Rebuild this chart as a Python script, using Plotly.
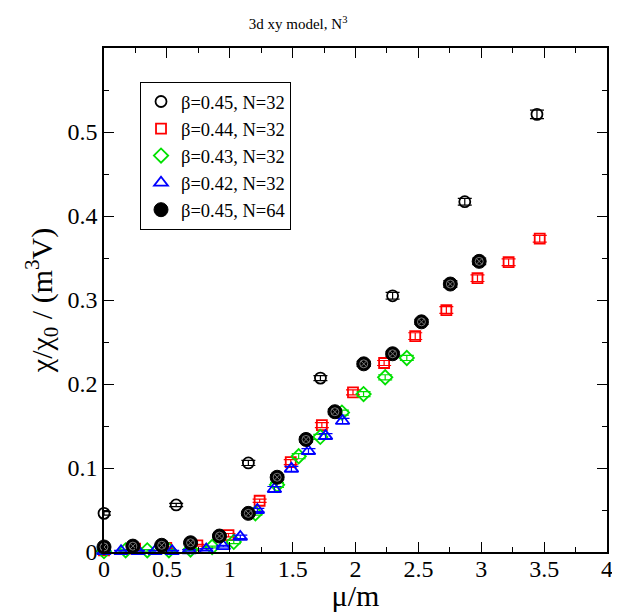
import plotly.graph_objects as go

# beta=0.45, N=32 (open black circles)
x_b45_n32 = [0.0, 0.574, 1.148, 1.721, 2.295, 2.869, 3.443]
y_b45_n32 = [0.046, 0.056, 0.106, 0.207, 0.305, 0.417, 0.521]
e_b45_n32 = [0.002, 0.002, 0.003, 0.003, 0.004, 0.004, 0.005]

# beta=0.44, N=32 (open red squares)
x_b44_n32 = [0.0, 0.2475, 0.495, 0.7425, 0.99, 1.2375, 1.485, 1.7325, 1.98, 2.2275,
             2.475, 2.7225, 2.97, 3.2175, 3.465]
y_b44_n32 = [0.002, 0.004, 0.005, 0.008, 0.020, 0.061, 0.107, 0.151, 0.190, 0.225,
             0.257, 0.288, 0.326, 0.345, 0.373]
e_b44_n32 = [0.001, 0.001, 0.001, 0.001, 0.002, 0.002, 0.003, 0.003, 0.003, 0.003,
             0.004, 0.004, 0.004, 0.004, 0.004]

# beta=0.43, N=32 (open green diamonds)
x_b43_n32 = [0.0, 0.172, 0.344, 0.516, 0.688, 0.86, 1.032, 1.204, 1.376, 1.548,
             1.72, 1.892, 2.064, 2.236, 2.408]
y_b43_n32 = [0.001, 0.002, 0.002, 0.002, 0.003, 0.006, 0.012, 0.046, 0.080, 0.114,
             0.137, 0.166, 0.188, 0.208, 0.231]
e_b43_n32 = [0.001, 0.001, 0.001, 0.001, 0.001, 0.001, 0.002, 0.002, 0.003, 0.003,
             0.003, 0.003, 0.003, 0.003, 0.003]

# beta=0.42, N=32 (open blue triangles)
x_b42_n32 = [0.0, 0.1355, 0.271, 0.4065, 0.542, 0.6775, 0.813, 0.9485, 1.084, 1.2195,
             1.355, 1.4905, 1.626, 1.7615, 1.897]
y_b42_n32 = [0.001, 0.001, 0.001, 0.001, 0.001, 0.002, 0.003, 0.007, 0.018, 0.050,
             0.075, 0.099, 0.120, 0.138, 0.156]
e_b42_n32 = [0.001, 0.001, 0.001, 0.001, 0.001, 0.001, 0.001, 0.001, 0.002, 0.002,
             0.003, 0.003, 0.003, 0.003, 0.003]

# beta=0.45, N=64 (filled black circles)
x_b45_n64 = [0.0, 0.2295, 0.459, 0.6885, 0.918, 1.1475, 1.377, 1.6065, 1.836, 2.0655,
             2.295, 2.5245, 2.754, 2.9835]
y_b45_n64 = [0.006, 0.007, 0.008, 0.011, 0.019, 0.046, 0.089, 0.134, 0.167, 0.224,
             0.236, 0.274, 0.319, 0.346]
e_b45_n64 = [0.001, 0.001, 0.001, 0.001, 0.002, 0.002, 0.003, 0.003, 0.003, 0.003,
             0.003, 0.003, 0.004, 0.004]

x_tick_vals = [0, 0.5, 1, 1.5, 2, 2.5, 3, 3.5, 4]
x_tick_text = ["0", "0.5", "1", "1.5", "2", "2.5", "3", "3.5", "4"]
y_tick_vals = [0, 0.1, 0.2, 0.3, 0.4, 0.5]
y_tick_text = ["0", "0.1", "0.2", "0.3", "0.4", "0.5"]

FONT = "Liberation Serif"

series = [
    ("β=0.45, N=32", x_b45_n32, y_b45_n32, e_b45_n32,
     dict(symbol="circle-open", size=11, color="black", line=dict(width=1.8, color="black")), "black"),
    ("β=0.44, N=32", x_b44_n32, y_b44_n32, e_b44_n32,
     dict(symbol="square-open", size=10, color="red", line=dict(width=1.8, color="red")), "red"),
    ("β=0.43, N=32", x_b43_n32, y_b43_n32, e_b43_n32,
     dict(symbol="diamond-open", size=11, color="#00e000", line=dict(width=1.8, color="#00e000")), "#00e000"),
    ("β=0.42, N=32", x_b42_n32, y_b42_n32, e_b42_n32,
     dict(symbol="triangle-up-open", size=12, color="blue", line=dict(width=1.8, color="blue")), "blue"),
    ("β=0.45, N=64", x_b45_n64, y_b45_n64, e_b45_n64,
     dict(symbol="circle", size=14, color="black", line=dict(width=1, color="black")), "black"),
]

fig = go.Figure()
for name, xs, ys, es, mk, col in series:
    fig.add_trace(go.Scatter(
        x=xs, y=ys, mode="markers", name=name, marker=mk,
        error_y=dict(type="data", array=es, visible=True, color=col, thickness=1.2, width=7),
        cliponaxis=False,
    ))

# dotted texture inside filled N=64 markers
fig.add_trace(go.Scatter(
    x=x_b45_n64, y=y_b45_n64, mode="markers", showlegend=False, hoverinfo="skip",
    marker=dict(symbol="circle-x", size=8, color="rgba(0,0,0,0)", line=dict(width=1, color="#777")),
    cliponaxis=False,
))

axis_common = dict(
    showgrid=False, zeroline=False, showline=True, linecolor="black", linewidth=1.5,
    mirror="ticks", ticks="inside", ticklen=10, tickwidth=1.2, tickcolor="black",
    tickfont=dict(family=FONT, size=24, color="black"), automargin=False,
)

# the page body adds an 8px offset, so the figure is sized to fill the rest of the window
fig.update_layout(
    width=612, height=604,
    margin=dict(l=96, r=13, t=40, b=60),
    paper_bgcolor="white", plot_bgcolor="white",
    font=dict(family=FONT, color="black"),
    title=dict(text="3d xy model, N<sup>3</sup>", x=0.474, xanchor="center", y=0.9735, yanchor="middle",
               font=dict(family=FONT, size=15, color="black")),
    showlegend=True,
    legend=dict(x=0.0716, y=0.9326, xanchor="left", yanchor="top",
                bordercolor="black", borderwidth=1, bgcolor="white",
                font=dict(family=FONT, size=18.5, color="black"),
                itemsizing="trace", tracegroupgap=0),
)

fig.update_xaxes(
    range=[0, 4], tickvals=x_tick_vals, ticktext=x_tick_text,
    minor=dict(dtick=0.25, tick0=0, ticks="inside", ticklen=5, tickwidth=1.2, tickcolor="black"),
    ticklabelstandoff=-6,
    title=dict(text="μ/m", font=dict(family=FONT, size=30, color="black"), standoff=6),
    **axis_common,
)
fig.update_yaxes(
    range=[0, 0.6], tickvals=y_tick_vals, ticktext=y_tick_text,
    minor=dict(dtick=0.05, tick0=0, ticks="inside", ticklen=5, tickwidth=1.2, tickcolor="black"),
    title=dict(text="χ/χ<sub>0</sub> / (m<sup>3</sup>V)", font=dict(family=FONT, size=30, color="black"), standoff=6),
    **axis_common,
)

fig.write_html("out.html")
